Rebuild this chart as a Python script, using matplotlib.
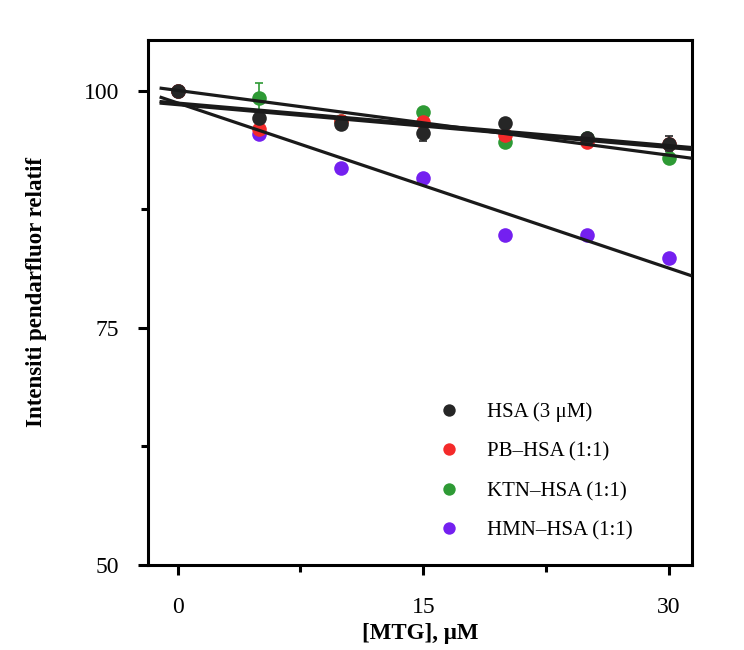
import matplotlib
matplotlib.use("Agg")
import matplotlib.pyplot as plt
import numpy as np

plt.rcParams['font.family'] = ['Liberation Serif', 'DejaVu Serif']

# konsentrasi MTG (uM)
mtg = [0, 5, 10, 15, 20, 25, 30]

# intensiti pendarfluor relatif (%) untuk setiap sistem
hsa = [100, 97.1, 96.5, 95.5, 96.6, 95.0, 94.4]
pb_hsa = [100, 96.0, 96.8, 96.7, 95.3, 94.6, 94.4]
ktn_hsa = [100, 99.2, 96.8, 97.7, 94.6, 95.0, 92.9]
hmn_hsa = [100, 95.4, 91.8, 90.8, 84.8, 84.8, 82.3]

hsa_err = [0.2, 0.3, 0.3, 0.8, 0.3, 0.3, 0.8]
pb_err = [0.2, 0.3, 0.3, 0.3, 0.3, 0.3, 0.3]
ktn_err = [0.2, 1.6, 0.3, 0.3, 0.3, 0.3, 0.3]
hmn_err = [0.2, 0.3, 0.3, 0.3, 0.3, 0.3, 0.3]

labels = ['HSA (3 \u03bcM)', 'PB\u2013HSA (1:1)', 'KTN\u2013HSA (1:1)', 'HMN\u2013HSA (1:1)']
colors = ['#262626', '#f42a2a', '#2e9a35', '#7420f0']

fig = plt.figure(figsize=(7.44, 6.5), dpi=100)
ax = fig.add_axes([0.199, 0.131, 0.731, 0.807])

series = [(hsa, hsa_err), (pb_hsa, pb_err), (ktn_hsa, ktn_err), (hmn_hsa, hmn_err)]
zo = [6, 5, 4, 3]
xfit = np.array([-1.0, 31.3])
handles = []
for (y, e), c, lab, z in zip(series, colors, labels, zo):
    ax.errorbar(mtg, y, yerr=e, fmt='none', ecolor=c, elinewidth=1.2,
                capsize=3, capthick=1.2, zorder=z)
    h, = ax.plot(mtg, y, 'o', color=c, ms=10.5, mec='none', label=lab, zorder=z)
    handles.append(h)
    # garis regresi linear
    m, b = np.polyfit(mtg, y, 1)
    ax.plot(xfit, m * xfit + b, color='#1a1a1a', lw=2.3, zorder=7)

ax.set_xlim(-1.8, 31.4)
ax.set_ylim(50, 105.3)
ax.set_xticks([0, 15, 30])
ax.set_xticks([7.5, 22.5], minor=True)
ax.set_yticks([50, 75, 100])
ax.set_yticks([62.5, 87.5], minor=True)
ax.tick_params(which='both', direction='out', width=2.2, labelsize=17)
ax.tick_params(axis='y', pad=14)
ax.tick_params(axis='x', pad=16)
ax.tick_params(which='major', length=7)
ax.tick_params(which='minor', length=5)
for s in ax.spines.values():
    s.set_linewidth(2.2)

ax.set_xlabel('[MTG], \u03bcM', fontsize=16.5, fontweight='bold', labelpad=4)
ax.set_ylabel('Intensiti pendarfluor relatif', fontsize=16.5, fontweight='bold')
ax.yaxis.set_label_coords(-0.185, 0.52)

ax.legend(handles=handles, loc='upper left', bbox_to_anchor=(0.49, 0.345),
          frameon=False, fontsize=15, markerscale=0.85, handletextpad=1.1,
          labelspacing=0.95, handlelength=1.5, numpoints=1)

fig.savefig('out.png', dpi=100)
